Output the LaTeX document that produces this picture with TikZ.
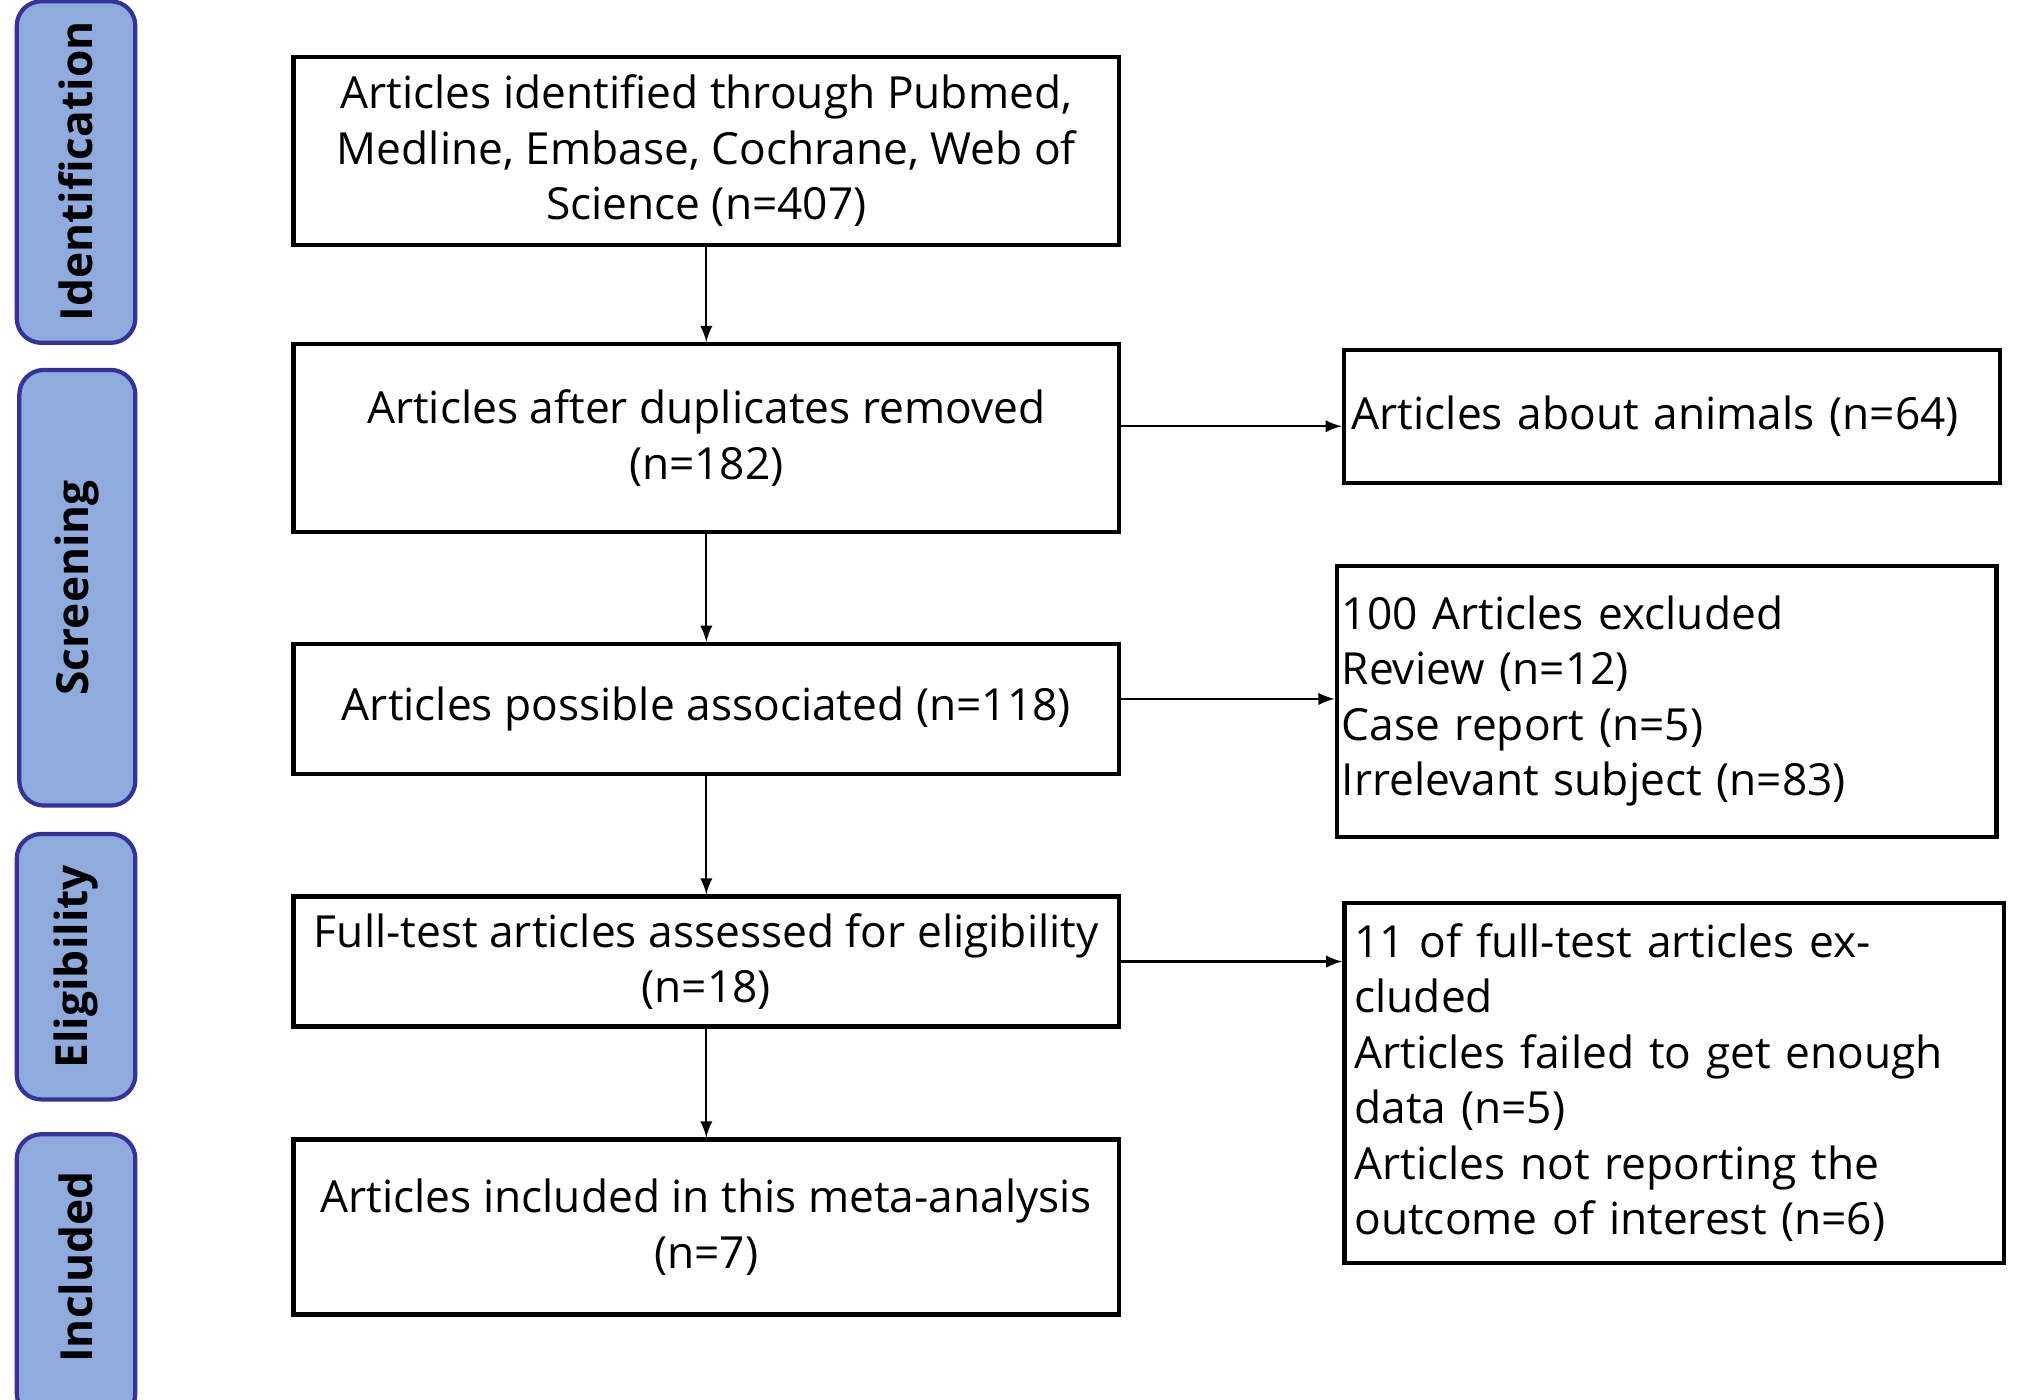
\documentclass[tikz,border=0pt]{standalone}
\usepackage{fontspec}
\setmainfont{Open Sans}
\begin{document}
\begin{tikzpicture}[x=0.01289cm,y=-0.01289cm,
 box/.style={draw,line width=1.2pt,inner sep=0pt,align=center,font=\fontsize{12.6}{15.8}\selectfont},
 rbox/.style={box,align=left},
 tab/.style={draw=blue!50!black!80,fill=tabc,line width=1.2pt,rounded corners=7pt},
 lab/.style={rotate=90,font=\bfseries\fontsize{12.6}{15}\selectfont},
 arr/.style={-latex,line width=0.6pt}]
\definecolor{tabc}{HTML}{8FAADC}
\useasboundingbox (0,0) rectangle (1568,1086);
\begin{scope}
\clip (0,0) rectangle (1568,1086);
\draw[tab] (13,1) rectangle (105,266);
\draw[tab] (15,287) rectangle (105,625);
\draw[tab] (13,647) rectangle (105,853);
\draw[tab] (13,880) rectangle (105,1100);
\end{scope}
\node[lab] (t1) at (59,133) {Identification};
\node[lab] (t2) at (60,456) {Screening};
\node[lab] (t3) at (59,750) {Eligibility};
\node[lab] (t4) at (59,983) {Included};

\node[box,minimum width=641\pgflinewidth,minimum width=8.26cm,minimum height=1.88cm] (b1) at (548,117) {Articles identified through Pubmed,\\Medline, Embase, Cochrane, Web of\\Science (n=407)};
\node[box,minimum width=8.26cm,minimum height=1.88cm] (b2) at (548,340) {Articles after duplicates removed\\(n=182)};
\node[box,minimum width=8.26cm,minimum height=1.30cm] (b3) at (548,550) {Articles possible associated (n=118)};
\node[box,minimum width=8.26cm,minimum height=1.30cm] (b4) at (548,746) {Full-test articles assessed for eligibility\\(n=18)};
\node[box,minimum width=8.26cm,minimum height=1.75cm] (b5) at (548,952) {Articles included in this meta-analysis\\(n=7)};

\node[rbox,minimum width=6.56cm,minimum height=1.33cm,text width=6.4cm] (r1) at (1297,323) {Articles about animals (n=64)};
\node[rbox,minimum width=6.60cm,minimum height=2.71cm,text width=6.5cm] (r2) at (1293,544) {100 Articles excluded\\Review (n=12)\\Case report (n=5)\\Irrelevant subject (n=83)};
\node[rbox,minimum width=6.60cm,minimum height=3.60cm,text width=6.4cm] (r3) at (1299,840) {11 of full-test articles excluded\\Articles failed to get enough\\data (n=5)\\Articles not reporting the\\outcome of interest (n=6)};

\draw[arr] (b1) -- (b2);
\draw[arr] (b2) -- (b3);
\draw[arr] (b3) -- (b4);
\draw[arr] (b4) -- (b5);
\draw[arr] ([yshift=0.12cm]b2.east) -- ([yshift=0.12cm]b2.east -| r1.west);
\draw[arr] ([yshift=0.1cm]b3.east) -- ([yshift=0.1cm]b3.east -| r2.west);
\draw[arr] (b4.east) -- (b4.east -| r3.west);
\end{tikzpicture}
\end{document}
